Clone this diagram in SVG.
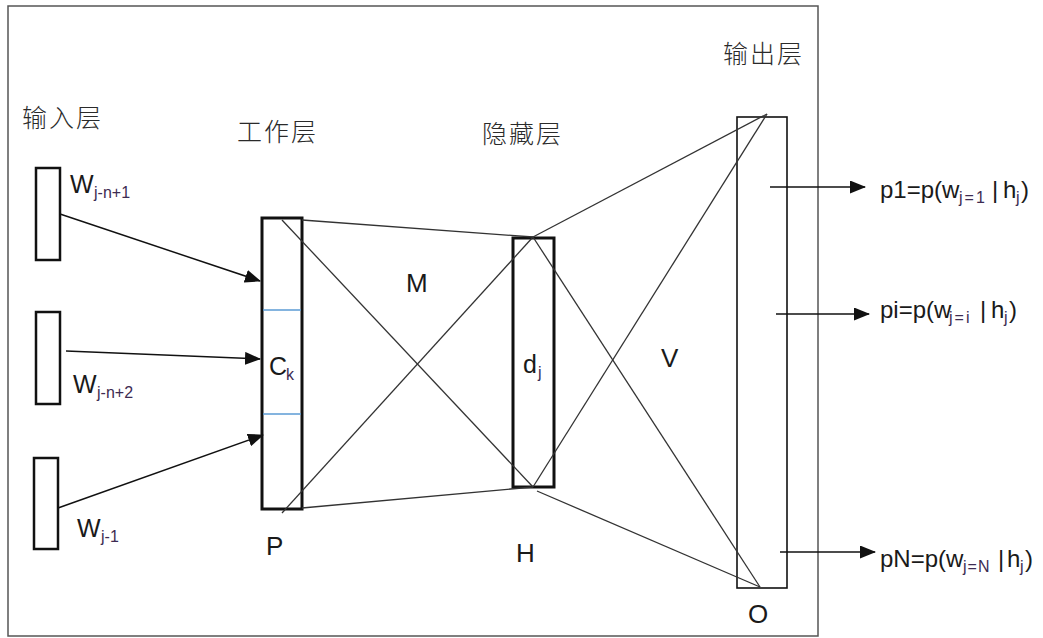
<svg xmlns="http://www.w3.org/2000/svg" width="1043" height="638" viewBox="0 0 1043 638">
<style>
.frame{fill:none;stroke:#555;stroke-width:1.5}
.box{fill:none;stroke:#111;stroke-width:2.5}
.thick{fill:none;stroke:#111;stroke-width:3}
.obox{fill:none;stroke:#111;stroke-width:1.6}
.sep{stroke:#5b9bd5;stroke-width:1.3}
.link{stroke:#333;stroke-width:1.3;fill:none}
.arr{stroke:#111;stroke-width:1.5;fill:none;marker-end:url(#ah)}
.cjk{font-family:"Noto Sans CJK SC","Noto Sans",sans-serif;font-size:25px;font-weight:300;fill:#2a2a2a;letter-spacing:2px}
.lat{font-family:"Liberation Sans",Arial,sans-serif;fill:#1a1a1a}
.big{font-size:26px}
.mid{font-size:25px}
.lbl{font-size:24px}
.sub{font-size:16px;fill:#3d2b52}
</style>
<defs>
<marker id="ah" markerUnits="userSpaceOnUse" markerWidth="16" markerHeight="13" refX="15" refY="6.5" orient="auto">
<path d="M0,0 L16,6.5 L0,13 z" fill="#111"/>
</marker>
</defs>
<rect class="frame" x="8" y="6" width="810" height="630"/>

<g id="input-layer">
<text class="cjk" x="22" y="127">输入层</text>
<rect class="box" x="36" y="168" width="24" height="92"/>
<rect class="box" x="36" y="312" width="24" height="92"/>
<rect class="box" x="34" y="458" width="24" height="91"/>
<text class="lat mid" x="70" y="193">W</text><text class="lat sub" x="94" y="198">j-n+1</text>
<text class="lat mid" x="73" y="393">W</text><text class="lat sub" x="97" y="398">j-n+2</text>
<text class="lat mid" x="77" y="537">W</text><text class="lat sub" x="101" y="542">j-1</text>
</g>

<g id="work-layer">
<text class="cjk" x="237" y="141">工作层</text>
<rect class="thick" x="262" y="218" width="40" height="291"/>
<line class="sep" x1="263" y1="310" x2="301" y2="310"/>
<line class="sep" x1="263" y1="414" x2="301" y2="414"/>
<text class="lat mid" x="269" y="375">C</text><text class="lat sub" x="286" y="380">k</text>
<text class="lat big" x="266" y="555">P</text>
</g>

<g id="hidden-layer">
<text class="cjk" x="482" y="143">隐藏层</text>
<rect class="thick" x="513" y="238" width="41" height="249"/>
<text class="lat mid" x="523" y="373">d</text><text class="lat sub" x="538" y="378">j</text>
<text class="lat big" x="516" y="562">H</text>
</g>

<g id="output-layer">
<text class="cjk" x="723" y="63">输出层</text>
<rect class="obox" x="737" y="117" width="50" height="471"/>
<text class="lat big" x="748" y="623">O</text>
</g>

<g id="weights">
<text class="lat big" x="406" y="292">M</text>
<text class="lat big" x="661" y="367">V</text>
</g>

<g id="outputs">
<text class="lat lbl" y="198"><tspan x="880">p1=p(w</tspan><tspan class="sub" x="959" y="203" letter-spacing="2">j=1</tspan><tspan x="992" y="198">|</tspan><tspan x="1003">h</tspan><tspan class="sub" x="1016" y="203">j</tspan><tspan x="1021" y="198">)</tspan></text>
<text class="lat lbl" y="318"><tspan x="880">pi=p(w</tspan><tspan class="sub" x="949" y="323" letter-spacing="2">j=i</tspan><tspan x="980" y="318">|</tspan><tspan x="991">h</tspan><tspan class="sub" x="1004" y="323">j</tspan><tspan x="1009" y="318">)</tspan></text>
<text class="lat lbl" y="567"><tspan x="880">pN=p(w</tspan><tspan class="sub" x="963" y="572" letter-spacing="1">j=N</tspan><tspan x="998" y="567">|</tspan><tspan x="1007">h</tspan><tspan class="sub" x="1020" y="572">j</tspan><tspan x="1025" y="567">)</tspan></text>
</g>

<g id="connectors">
<line class="arr" x1="60" y1="214" x2="260" y2="281"/>
<line class="arr" x1="66" y1="351" x2="260" y2="359"/>
<line class="arr" x1="58" y1="508" x2="263" y2="435"/>
<line class="link" x1="302" y1="220" x2="533" y2="237"/>
<line class="link" x1="282" y1="220" x2="533" y2="487"/>
<line class="link" x1="282" y1="513" x2="533" y2="237"/>
<line class="link" x1="302" y1="508" x2="533" y2="487"/>
<line class="link" x1="533" y1="237" x2="767" y2="114"/>
<line class="link" x1="533" y1="487" x2="767" y2="114"/>
<line class="link" x1="533" y1="237" x2="760" y2="587"/>
<line class="link" x1="537" y1="491" x2="760" y2="587"/>
<line class="arr" x1="770" y1="187" x2="865" y2="187"/>
<line class="arr" x1="776" y1="314" x2="869" y2="314"/>
<line class="arr" x1="780" y1="552" x2="875" y2="552"/>
</g>
</svg>
